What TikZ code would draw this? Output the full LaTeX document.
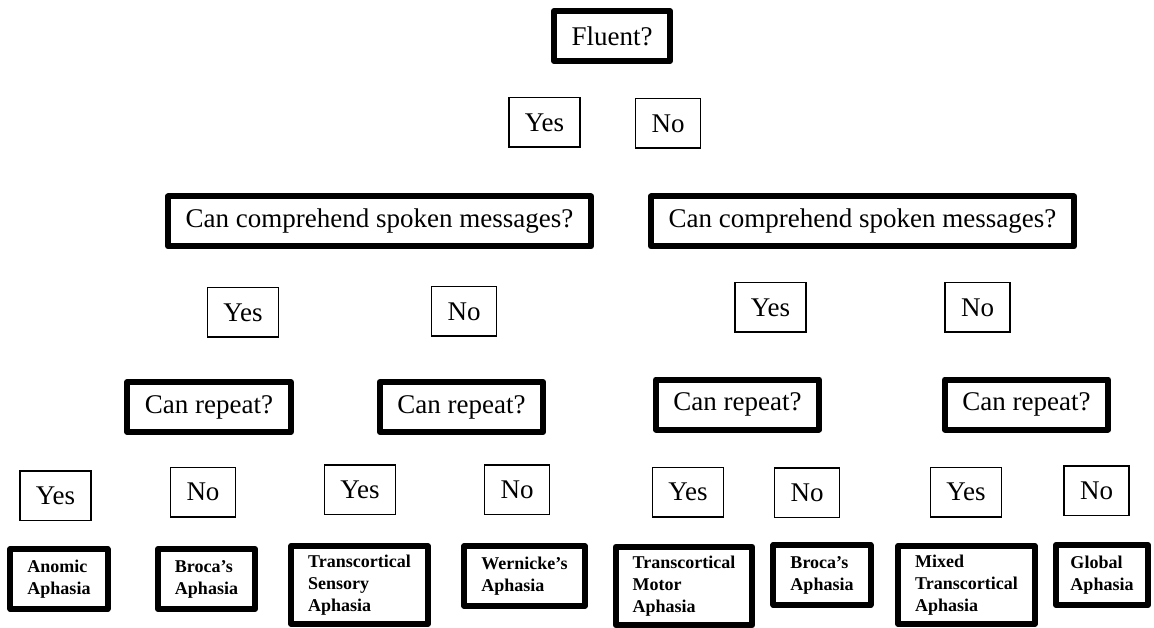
\documentclass[tikz,border=0pt]{standalone}
\usepackage{fontspec}
\setmainfont{Liberation Serif}
\usepackage{tikz}
\tikzset{
    question/.style={draw=black,line width=6pt,line join=round,fill=white,
        font=\fontsize{27}{32}\selectfont,inner xsep=17.5pt,minimum height=50pt},
    answer/.style={draw=black,line width=1.5pt,fill=white,
        font=\fontsize{27}{32}\selectfont,inner xsep=16pt,minimum height=49.5pt},
    result/.style={draw=black,line width=6pt,line join=round,fill=white,align=left,
        font=\fontsize{18}{22}\selectfont\bfseries,inner xsep=17pt,minimum height=60pt},
    longresult/.style={result,minimum height=78pt}
}

\begin{document}
\begin{tikzpicture}[x=1pt,y=-1pt]
\useasboundingbox (0,0) rectangle (1154,628);
% first question
\node[question] (fluent) at (612,36) {Fluent?};
\node[answer] (yesA) at (544.5,122.5) {Yes};
\node[answer] (noA) at (668,123.5) {No};
% comprehension
\node[question] (compL) at (379.5,221.5) {Can comprehend spoken messages?};
\node[question] (compR) at (862.5,221.5) {Can comprehend spoken messages?};
\node[answer] (yesL) at (243,312.5) {Yes};
\node[answer] (noL) at (464,311.5) {No};
\node[answer] (yesR) at (770.5,307.5) {Yes};
\node[answer] (noR) at (977.5,307.5) {No};
% repetition
\node[question] (repA) at (209,407) {Can repeat?};
\node[question] (repB) at (461.5,407) {Can repeat?};
\node[question] (repC) at (737.5,404.5) {Can repeat?};
\node[question] (repD) at (1026.5,404.5) {Can repeat?};
\node[answer] (yesRA) at (55.5,495.5) {Yes};
\node[answer] (noRA) at (203,492) {No};
\node[answer] (yesRB) at (360,489.5) {Yes};
\node[answer] (noRB) at (517,489.5) {No};
\node[answer] (yesRC) at (688,492) {Yes};
\node[answer] (noRC) at (807,492.5) {No};
\node[answer] (yesRD) at (966,492) {Yes};
\node[answer] (noRD) at (1096.5,490.5) {No};
% diagnoses
\node[result] (anomic) at (59,579) {Anomic\\Aphasia};
\node[result] (brocaA) at (206.5,579) {Broca’s\\Aphasia};
\node[longresult] (tsensory) at (359.5,585) {Transcortical\\Sensory\\Aphasia};
\node[result] (wernicke) at (524.5,576) {Wernicke’s\\Aphasia};
\node[longresult] (tmotor) at (684,586) {Transcortical\\Motor\\Aphasia};
\node[result] (brocaB) at (822,575) {Broca’s\\Aphasia};
\node[longresult] (mixed) at (966.5,585) {Mixed\\Transcortical\\Aphasia};
\node[result,inner xsep=14.5pt] (global) at (1102,575) {Global\\Aphasia};
\end{tikzpicture}
\end{document}
